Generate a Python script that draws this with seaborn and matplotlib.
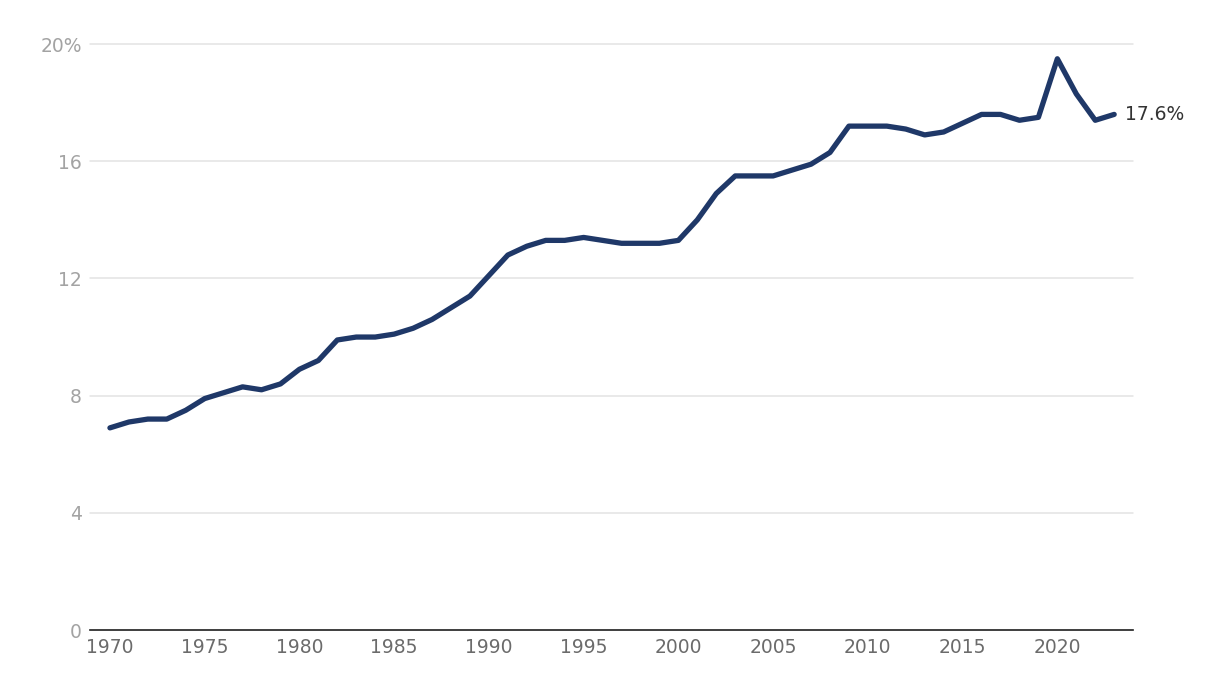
import numpy as np
import pandas as pd
import matplotlib
matplotlib.use("Agg")
import matplotlib.pyplot as plt
import seaborn as sns

years = list(range(1970, 2024))
share = [6.9, 7.1, 7.2, 7.2, 7.5, 7.9, 8.1, 8.3, 8.2, 8.4,
         8.9, 9.2, 9.9, 10.0, 10.0, 10.1, 10.3, 10.6, 11.0, 11.4,
         12.1, 12.8, 13.1, 13.3, 13.3, 13.4, 13.3, 13.2, 13.2, 13.2,
         13.3, 14.0, 14.9, 15.5, 15.5, 15.5, 15.7, 15.9, 16.3, 17.2,
         17.2, 17.2, 17.1, 16.9, 17.0, 17.3, 17.6, 17.6, 17.4, 17.5,
         19.5, 18.3, 17.4, 17.6]
y_ticks = [0, 4, 8, 12, 16, 20]
y_labels = ["0", "4", "8", "12", "16", "20%"]
x_ticks = list(range(1970, 2021, 5))

df = pd.DataFrame({"year": years, "share": share})

sns.set_style("white")
plt.rcParams["font.family"] = ["DejaVu Sans"]

fig = plt.figure(figsize=(12.2, 7), dpi=100)
ax = fig.add_axes([0.0738, 0.1, 0.855, 0.837])

sns.lineplot(data=df, x="year", y="share", color="#1f3868", linewidth=3.8,
             ax=ax, solid_capstyle="round", solid_joinstyle="round")

ax.set_xlim(1968.95, 2024.0)
ax.set_ylim(0, 20)
ax.set_yticks(y_ticks)
ax.set_yticklabels(y_labels)
ax.set_xticks(x_ticks)
ax.grid(axis="y", color="#e3e3e3", linewidth=1.1)
for gl in ax.yaxis.get_gridlines():
    gl.set_clip_on(False)
ax.set_axisbelow(True)
for s in ["top", "right", "left"]:
    ax.spines[s].set_visible(False)
ax.spines["bottom"].set_color("#222222")
ax.spines["bottom"].set_linewidth(1.2)
ax.tick_params(axis="y", length=0, pad=6, labelsize=13.5, labelcolor="#a3a3a3")
ax.tick_params(axis="x", length=0, pad=6, labelsize=13.5, labelcolor="#6b6b6b")
ax.set_xlabel("")
ax.set_ylabel("")

ax.annotate(f"{share[-1]}%", xy=(years[-1], share[-1]), xytext=(8, 0),
            textcoords="offset points", va="center", ha="left",
            fontsize=13.5, color="#333333", annotation_clip=False)

fig.savefig("out.png", dpi=100)
